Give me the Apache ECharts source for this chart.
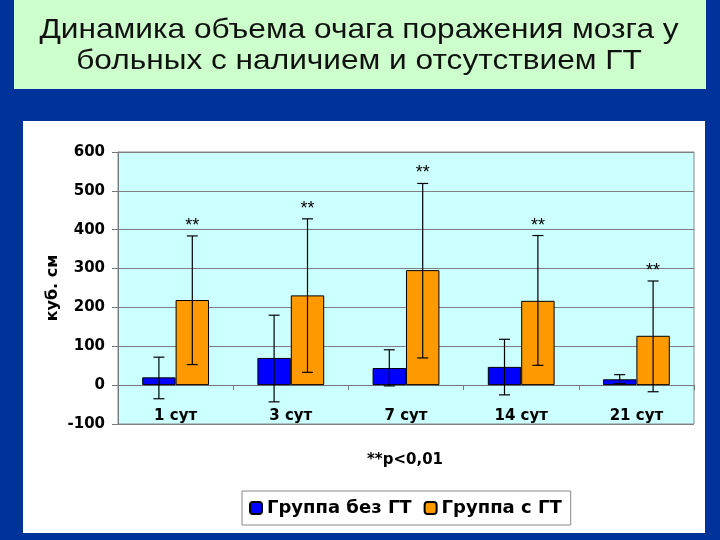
<!DOCTYPE html>
<html><head><meta charset="utf-8">
<script src="https://cdn.jsdelivr.net/npm/echarts@6/dist/echarts.min.js"></script>
<style>html,body{margin:0;padding:0;background:#003399}#c{width:720px;height:540px}</style>
</head><body><div id="c"></div>
<script>
const titleLines = ['Динамика объема очага поражения мозга у', 'больных с наличием и отсутствием ГТ'];
const categories = ['1 сут', '3 сут', '7 сут', '14 сут', '21 сут'];
const seriesNames = ['Группа без ГТ', 'Группа с ГТ'];
const blueValues = [20, 70, 44, 47, 15];
const blueLow = [-35, -43, -2, -25, 4];
const blueHigh = [72, 180, 91, 118, 27];
const orangeValues = [219, 231, 296, 217, 127];
const orangeLow = [53, 33, 70, 51, -17];
const orangeHigh = [384, 428, 519, 385, 268];
const yTicks = [-100, 0, 100, 200, 300, 400, 500, 600];
const signif = ['**', '**', '**', '**', '**'];
const footnote = '**p<0,01';

const chart = echarts.init(document.getElementById('c'));
const axisFont = 'DejaVu Sans';

function errSeries(low, high, side, withStar) {
  return {
    type: 'custom',
    z: 10,
    silent: true,
    data: categories.map((c, i) => [i, low[i], high[i], signif[i]]),
    renderItem: function (params, api) {
      const band = api.size([1, 0])[0];
      const barW = band * (1 - 0.42) / 2;
      const x = api.coord([api.value(0), 0])[0] + side * barW / 2;
      const yl = api.coord([api.value(0), api.value(1)])[1];
      const yh = api.coord([api.value(0), api.value(2)])[1];
      const cap = 5.5;
      const st = { stroke: '#000', lineWidth: 1.2 };
      const children = [
        { type: 'line', shape: { x1: x, y1: yl, x2: x, y2: yh }, style: st },
        { type: 'line', shape: { x1: x - cap, y1: yh, x2: x + cap, y2: yh }, style: st },
        { type: 'line', shape: { x1: x - cap, y1: yl, x2: x + cap, y2: yl }, style: st }
      ];
      if (withStar) {
        children.push({ type: 'text', style: { text: api.value(3), x: x, y: yh - 10, align: 'center', verticalAlign: 'middle', font: '18px "Liberation Sans"', fill: '#000' } });
      }
      return { type: 'group', children: children };
    }
  };
}

chart.setOption({
  backgroundColor: '#003399',
  animation: false,
  graphic: [
    { type: 'rect', shape: { x: 14, y: 0, width: 692, height: 89 }, style: { fill: '#ccffcc' }, z: -10 },
    { type: 'rect', shape: { x: 23, y: 121, width: 682, height: 412 }, style: { fill: '#ffffff' }, z: -10 },
    { type: 'text', x: 359, y: 46, scaleX: 1.13, scaleY: 1.0,
      style: { text: titleLines.join('\n'), x: 0, y: 0, align: 'center', verticalAlign: 'middle', font: '28px "Liberation Sans"', lineHeight: 31, fill: '#111' } },
    { type: 'text', style: { text: footnote, x: 405, y: 460, align: 'center', verticalAlign: 'middle', font: 'bold 15px "DejaVu Sans"', fill: '#000' } }
  ],
  legend: {
    data: seriesNames,
    left: 242, top: 491,
    padding: [8, 9, 8, 7],
    itemWidth: 12, itemHeight: 12, itemGap: 12,
    backgroundColor: '#fff', borderColor: '#888', borderWidth: 1,
    textStyle: { fontFamily: axisFont, fontWeight: 'bold', fontSize: 18, color: '#000' }
  },
  grid: { left: 118, right: 26, top: 152, bottom: 116, show: true, backgroundColor: '#ccffff', borderColor: '#888', borderWidth: 1 },
  xAxis: {
    type: 'category', data: categories,
    axisLine: { onZero: true, lineStyle: { color: '#777', width: 1 } },
    axisTick: { show: true, length: 5, lineStyle: { color: '#777' } },
    axisLabel: { inside: true, margin: 0, fontFamily: axisFont, fontWeight: 'bold', fontSize: 15, color: '#000' }
  },
  yAxis: {
    type: 'value', min: -100, max: 600, interval: 100,
    name: 'куб. см', nameLocation: 'middle', nameGap: 57, nameRotate: 90, nameMoveOverlap: false,
    nameTextStyle: { fontFamily: axisFont, fontWeight: 'bold', fontSize: 16, color: '#000' },
    axisLine: { show: true, lineStyle: { color: '#777' } },
    axisTick: { show: true, length: 6, lineStyle: { color: '#777' } },
    splitLine: { lineStyle: { color: '#808080', width: 1 } },
    axisLabel: { margin: 13, fontFamily: axisFont, fontWeight: 'bold', fontSize: 15, color: '#000',
      formatter: v => yTicks.includes(v) ? String(v) : '' }
  },
  series: [
    { name: seriesNames[0], type: 'bar', data: blueValues, barGap: '0%', barCategoryGap: '42%',
      itemStyle: { color: '#0000ff', borderColor: '#000', borderWidth: 1 } },
    { name: seriesNames[1], type: 'bar', data: orangeValues, barGap: '0%', barCategoryGap: '42%',
      itemStyle: { color: '#ff9900', borderColor: '#000', borderWidth: 1 } },
    errSeries(blueLow, blueHigh, -1, false),
    errSeries(orangeLow, orangeHigh, 1, true)
  ]
});
</script></body></html>
